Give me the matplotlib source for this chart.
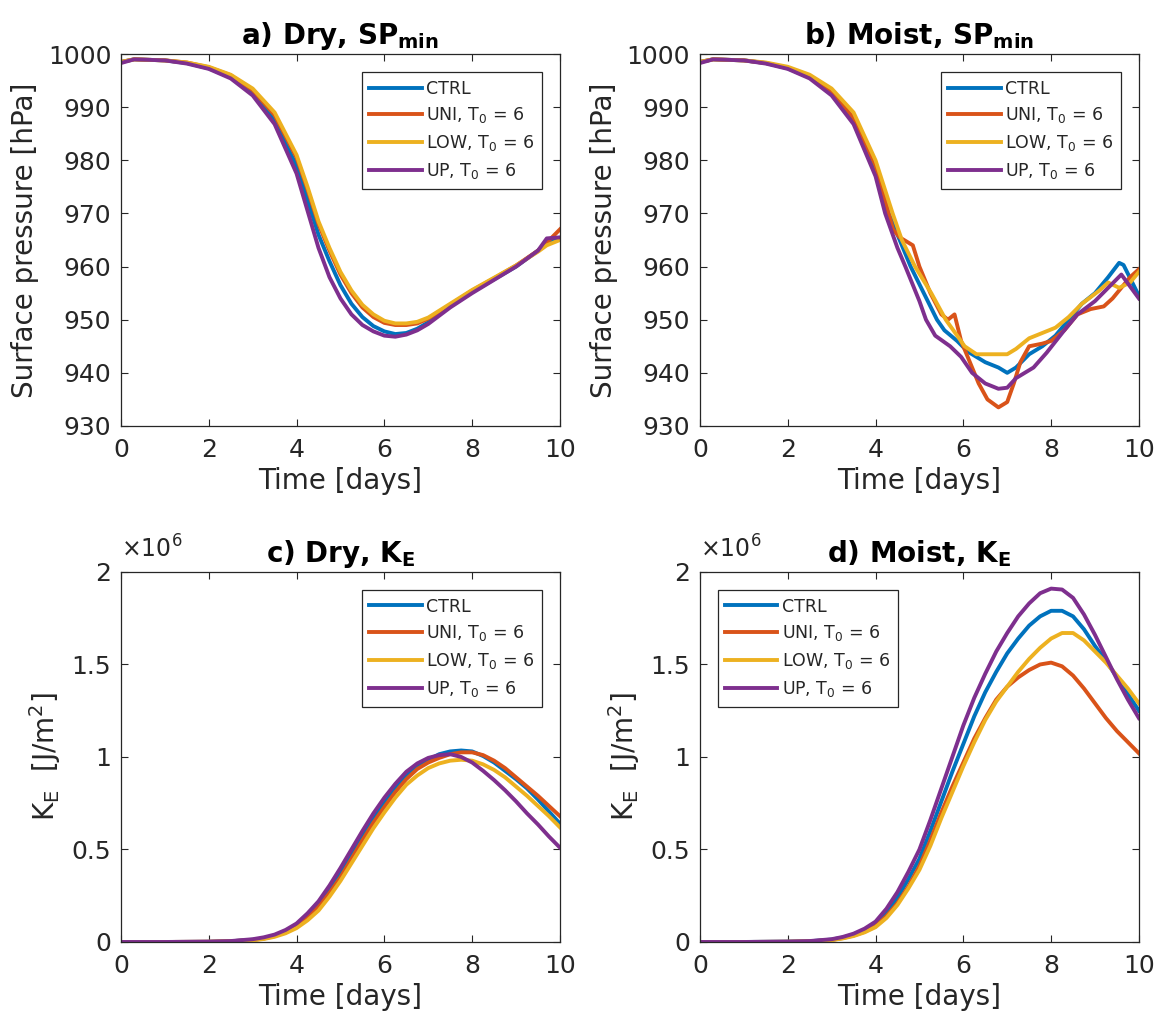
import numpy as np
import matplotlib
matplotlib.use('Agg')
import matplotlib.pyplot as plt

plt.rcParams['font.family'] = 'DejaVu Sans'
plt.rcParams['mathtext.fontset'] = 'dejavusans'

run_names = ['CTRL', 'UNI, T$_0$ = 6', 'LOW, T$_0$ = 6', 'UP, T$_0$ = 6']
run_colors = ['#0072BD', '#D95319', '#EDB120', '#7E2F8E']

# ---------- a) Dry, minimum surface pressure [hPa] ----------
t_sp_dry = [0, 0.3, 1, 1.5, 2, 2.5, 3, 3.5, 4, 4.25, 4.5, 4.75, 5, 5.25, 5.5, 5.75,
            6, 6.25, 6.5, 6.75, 7, 7.5, 8, 8.5, 9, 9.5, 9.7, 10]
sp_dry_ctrl = [998.5, 999, 998.8, 998.3, 997.3, 995.6, 992.6, 987.5, 979, 972.5, 966, 961,
               956.5, 953, 950.5, 948.8, 947.8, 947.3, 947.5, 948.3, 949.5, 952.5, 955.2,
               957.6, 960, 963, 964.5, 965.3]
sp_dry_uni = [998.5, 999, 998.8, 998.4, 997.5, 996, 993.2, 988.5, 980.5, 974.5, 968, 963,
              958.5, 955, 952.3, 950.5, 949.4, 949, 949, 949.3, 950.2, 952.8, 955.5,
              957.8, 960.2, 963, 964.5, 967]
sp_dry_low = [998.5, 999, 998.8, 998.4, 997.6, 996.1, 993.5, 989, 981, 975, 968.5, 963.5,
              959, 955.5, 952.8, 951, 949.8, 949.3, 949.3, 949.6, 950.4, 953, 955.6,
              957.9, 960.2, 962.8, 964, 965]
sp_dry_up = [998.3, 999, 998.8, 998.2, 997.2, 995.4, 992.2, 986.8, 977.5, 970.5, 963.5, 958,
             954, 951, 949, 947.8, 947, 946.8, 947.2, 948, 949.2, 952.3, 955, 957.5,
             960, 963, 965.3, 965.5]

# ---------- b) Moist, minimum surface pressure [hPa] ----------
t_sp_moist_ctrl = [0, 0.3, 1, 1.5, 2, 2.5, 3, 3.5, 4, 4.3, 4.8, 5.4, 5.57, 5.86, 6.1, 6.5,
                   6.8, 7, 7.2, 7.5, 7.8, 8.1, 8.4, 8.7, 9, 9.3, 9.55, 9.65, 10]
sp_moist_ctrl = [998.5, 999, 998.8, 998.3, 997.3, 995.6, 992.6, 987.5, 978.5, 970, 960, 950,
                 948, 946, 944, 942, 941, 940, 941, 943.5, 945, 947, 950, 953, 955, 958,
                 960.7, 960.3, 954.5]
t_sp_moist_uni = [0, 0.3, 1, 1.5, 2, 2.5, 3, 3.5, 4, 4.4, 4.55, 4.85, 5.0, 5.25, 5.5, 5.65,
                  5.8, 5.95, 6.15, 6.35, 6.55, 6.8, 7.0, 7.15, 7.3, 7.5, 7.8, 8.0, 8.3,
                  8.6, 8.9, 9.2, 9.4, 9.6, 9.8, 10]
sp_moist_uni = [998.5, 999, 998.8, 998.3, 997.4, 995.8, 993, 988, 979, 967, 965.5, 964, 960,
                955, 951, 950, 951, 946, 942, 938, 935, 933.5, 934.5, 938, 942, 945, 945.5,
                946, 948, 951, 952, 952.5, 954, 956, 958, 959.5]
t_sp_moist_low = [0, 0.3, 1, 1.5, 2, 2.5, 3, 3.5, 4, 4.39, 4.6, 4.9, 5.27, 5.6, 5.86, 6.03,
                  6.3, 6.6, 7, 7.2, 7.5, 7.8, 8.1, 8.4, 8.7, 9.1, 9.3, 9.55, 9.8, 10]
sp_moist_low = [998.5, 999, 998.8, 998.4, 997.6, 996.1, 993.5, 989, 980, 970, 965, 960, 955,
                950, 947, 945, 943.5, 943.5, 943.5, 944.5, 946.5, 947.5, 948.5, 950.5, 953,
                955.5, 957, 956, 957, 959]
t_sp_moist_up = [0, 0.3, 1, 1.5, 2, 2.5, 3, 3.5, 4, 4.22, 4.5, 4.68, 5, 5.15, 5.36, 5.7,
                 5.95, 6.2, 6.5, 6.8, 7, 7.2, 7.6, 7.9, 8.3, 8.6, 9, 9.3, 9.6, 10]
sp_moist_up = [998.3, 999, 998.8, 998.2, 997.2, 995.4, 992.2, 986.8, 977, 970, 963.5, 960,
               953.5, 950, 947, 945, 943, 940, 938, 937, 937.2, 939, 941, 943.8, 948, 951,
               953.5, 956, 958.5, 954]

# ---------- c), d) kinetic energy [10^6 J/m^2] ----------
t_ke = [0, 1, 2, 2.5, 3, 3.25, 3.5, 3.75, 4, 4.25, 4.5, 4.75, 5, 5.25, 5.5, 5.75, 6,
        6.25, 6.5, 6.75, 7, 7.25, 7.5, 7.75, 8, 8.25, 8.5, 8.75, 9, 9.25, 9.5, 9.75, 10]
ke_dry_ctrl = [0, 0, 0.001, 0.004, 0.012, 0.02, 0.035, 0.058, 0.09, 0.14, 0.2, 0.28, 0.37,
               0.47, 0.57, 0.665, 0.75, 0.83, 0.9, 0.95, 0.985, 1.015, 1.03, 1.035, 1.03,
               1.005, 0.97, 0.925, 0.88, 0.83, 0.77, 0.705, 0.64]
ke_dry_uni = [0, 0, 0.001, 0.004, 0.011, 0.018, 0.032, 0.053, 0.085, 0.13, 0.19, 0.265,
              0.35, 0.45, 0.55, 0.645, 0.73, 0.81, 0.88, 0.935, 0.97, 0.995, 1.015, 1.025,
              1.025, 1.01, 0.98, 0.94, 0.89, 0.84, 0.79, 0.735, 0.68]
ke_dry_low = [0, 0, 0.001, 0.003, 0.009, 0.016, 0.028, 0.047, 0.075, 0.117, 0.17, 0.245,
              0.33, 0.425, 0.52, 0.615, 0.7, 0.78, 0.85, 0.9, 0.94, 0.965, 0.98, 0.985,
              0.98, 0.96, 0.93, 0.89, 0.84, 0.79, 0.735, 0.68, 0.62]
ke_dry_up = [0, 0, 0.002, 0.005, 0.015, 0.025, 0.04, 0.065, 0.1, 0.155, 0.22, 0.305, 0.4,
             0.5, 0.6, 0.695, 0.78, 0.855, 0.92, 0.965, 0.995, 1.01, 1.015, 1.0, 0.97,
             0.925, 0.875, 0.82, 0.76, 0.695, 0.635, 0.57, 0.51]

ke_moist_ctrl = [0, 0, 0.002, 0.004, 0.013, 0.024, 0.04, 0.065, 0.1, 0.16, 0.24, 0.34,
                 0.45, 0.6, 0.76, 0.92, 1.07, 1.22, 1.35, 1.46, 1.56, 1.64, 1.71, 1.76,
                 1.79, 1.79, 1.76, 1.69, 1.6, 1.52, 1.43, 1.34, 1.25]
ke_moist_uni = [0, 0, 0.001, 0.003, 0.011, 0.021, 0.035, 0.055, 0.085, 0.14, 0.21, 0.3,
                0.41, 0.55, 0.7, 0.84, 0.97, 1.1, 1.21, 1.31, 1.38, 1.43, 1.47, 1.5, 1.51,
                1.49, 1.44, 1.37, 1.29, 1.21, 1.14, 1.08, 1.02]
ke_moist_low = [0, 0, 0.001, 0.003, 0.01, 0.019, 0.032, 0.052, 0.08, 0.13, 0.2, 0.29,
                0.39, 0.52, 0.67, 0.81, 0.95, 1.08, 1.2, 1.3, 1.38, 1.46, 1.53, 1.59, 1.64,
                1.67, 1.67, 1.63, 1.57, 1.51, 1.44, 1.37, 1.29]
ke_moist_up = [0, 0, 0.002, 0.005, 0.015, 0.027, 0.045, 0.072, 0.11, 0.18, 0.27, 0.38,
               0.5, 0.66, 0.83, 1.0, 1.17, 1.32, 1.45, 1.57, 1.67, 1.76, 1.83, 1.885, 1.91,
               1.905, 1.86, 1.77, 1.66, 1.54, 1.42, 1.31, 1.21]

ink = '#262626'

def draw_panel(ax, times, series, title, ylabel, ylim, yticks, legend_loc, legend_anchor):
    for t, y, name, c in zip(times, series, run_names, run_colors):
        ax.plot(t, y, color=c, lw=2.8, label=name)
    ax.set_xlim(0, 10)
    ax.set_xticks([0, 2, 4, 6, 8, 10])
    ax.set_ylim(*ylim)
    ax.set_yticks(yticks)
    ax.yaxis.set_major_formatter(plt.FuncFormatter(lambda v, p: f'{v:g}'))
    ax.tick_params(direction='in', top=True, right=True, length=5, width=0.8,
                   colors=ink, labelsize=18)
    ax.tick_params(axis='x', pad=9)
    ax.tick_params(axis='y', pad=7)
    for s in ax.spines.values():
        s.set_color(ink)
        s.set_linewidth(0.9)
    ax.set_title(title, fontsize=20, fontweight='bold', color='black', pad=7)
    ax.set_xlabel('Time [days]', fontsize=20, color=ink, labelpad=3)
    ax.set_ylabel(ylabel, fontsize=20, color=ink, labelpad=6)
    leg = ax.legend(loc=legend_loc, bbox_to_anchor=legend_anchor, borderaxespad=0,
                    fontsize=12.5, handlelength=3.0, handletextpad=0.25, labelspacing=0.45,
                    borderpad=0.45, fancybox=False, framealpha=1, edgecolor=ink)
    leg.get_frame().set_linewidth(0.9)
    for txt in leg.get_texts():
        txt.set_color(ink)


fig = plt.figure(figsize=(11.6, 10.23), dpi=100)
ax_a = fig.add_axes([0.1043, 0.5836, 0.3784, 0.3636])
ax_b = fig.add_axes([0.6034, 0.5836, 0.3784, 0.3636])
ax_c = fig.add_axes([0.1043, 0.0792, 0.3784, 0.3617])
ax_d = fig.add_axes([0.6034, 0.0792, 0.3784, 0.3617])

sp_ticks = [930, 940, 950, 960, 970, 980, 990, 1000]
ke_ticks = [0, 0.5, 1, 1.5, 2]

draw_panel(ax_a, [t_sp_dry] * 4, [sp_dry_ctrl, sp_dry_uni, sp_dry_low, sp_dry_up],
           r'a) Dry, SP$_\mathbf{min}$', 'Surface pressure [hPa]', (930, 1000), sp_ticks,
           'upper right', (0.959, 0.952))
draw_panel(ax_b, [t_sp_moist_ctrl, t_sp_moist_uni, t_sp_moist_low, t_sp_moist_up],
           [sp_moist_ctrl, sp_moist_uni, sp_moist_low, sp_moist_up],
           r'b) Moist, SP$_\mathbf{min}$', 'Surface pressure [hPa]', (930, 1000), sp_ticks,
           'upper right', (0.959, 0.952))
draw_panel(ax_c, [t_ke] * 4, [ke_dry_ctrl, ke_dry_uni, ke_dry_low, ke_dry_up],
           r'c) Dry, K$_\mathbf{E}$', r'K$_\mathrm{E}$  [J/m$^2$]', (0, 2), ke_ticks,
           'upper right', (0.959, 0.952))
draw_panel(ax_d, [t_ke] * 4, [ke_moist_ctrl, ke_moist_uni, ke_moist_low, ke_moist_up],
           r'd) Moist, K$_\mathbf{E}$', r'K$_\mathrm{E}$  [J/m$^2$]', (0, 2), ke_ticks,
           'upper left', (0.04, 0.952))

# exponent label like MATLAB
for ax in (ax_c, ax_d):
    ax.text(0.0, 1.025, '×10$^6$', transform=ax.transAxes, fontsize=17,
            color=ink, ha='left', va='bottom')

fig.savefig('out.png', dpi=100, facecolor='white')
